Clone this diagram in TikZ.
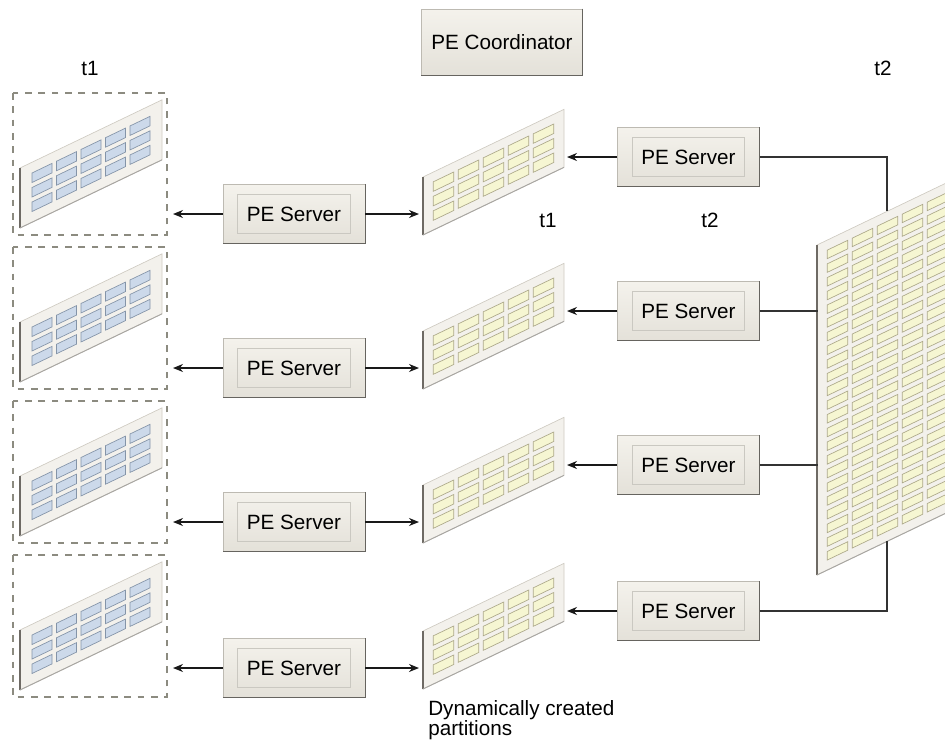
\documentclass[tikz,border=0pt]{standalone}
\usepackage{fontspec}
\setmainfont{Liberation Sans}
\usetikzlibrary{arrows.meta}

\definecolor{sheetbg}{HTML}{F3F1EC}
\definecolor{sheetrim}{HTML}{CFCBC2}
\definecolor{sheetdark}{HTML}{6E6A64}
\definecolor{cellyel}{HTML}{F6F6D2}
\definecolor{cellyelrim}{HTML}{ADA98A}
\definecolor{cellblu}{HTML}{CCD9EA}
\definecolor{cellblurim}{HTML}{8494A8}
\definecolor{boxtop}{HTML}{F4F2EC}
\definecolor{boxbot}{HTML}{E4E1D9}
\definecolor{boxrim}{HTML}{BDBAB2}
\definecolor{boxdark}{HTML}{66645F}
\definecolor{dashcol}{HTML}{8C8B80}

\tikzset{
  every node/.style={font=\fontsize{15.5}{15}\selectfont},
  sheetfill/.style={fill=sheetbg},
  sheetline/.style={draw=sheetrim, line width=0.5pt},
  sheetedge/.style={draw=sheetdark, line width=1.6pt},
  sheetfoot/.style={draw=sheetdark!60, line width=0.7pt},
  yellowcell/.style={fill=cellyel, draw=cellyelrim, line width=0.5pt},
  bluecell/.style={fill=cellblu, draw=cellblurim, line width=0.5pt},
  pebox/.style={draw=boxrim, top color=boxtop, bottom color=boxbot,
    minimum width=106.5pt, minimum height=44.25pt, inner sep=0pt},
  coordbox/.style={pebox, minimum width=120.75pt, minimum height=49.5pt},
  boxshade/.style={draw=boxdark, line width=0.9pt},
  innerframe/.style={draw=boxrim!80, line width=0.5pt},
  dashframe/.style={draw=dashcol, line width=0.8pt, dash pattern=on 5pt off 5pt},
  flow/.style={draw=black!90, line width=1.1pt, -{Stealth[length=7.5pt,width=6pt]}},
  link/.style={draw=black!80, line width=1pt}
}

% sheet: origin, width, height, cols, rows, col pitch, row pitch, cell height, cell style
\newcommand{\datasheet}[9]{%
  \begin{scope}[shift={#1}, yslant=0.48]
    \pgfmathsetmacro{\cw}{#6-4.5}
    \pgfmathsetmacro{\mx}{(#2-(#4-1)*#6-\cw)/2}
    \pgfmathsetmacro{\my}{(#3-(#5-1)*#7-#8)/2}
    \fill[sheetfill] (0,0) rectangle (#2,#3);
    \draw[sheetline] (0,0) rectangle (#2,#3);
    \draw[sheetedge] (0,0) -- (0,#3);
    \draw[sheetfoot] (0,#3) -- (#2,#3);
    \foreach \c in {1,...,#4}
      \foreach \k in {1,...,#5}
        \draw[#9] ({\mx+(\c-1)*#6},{\my+(\k-1)*#7}) rectangle ++(\cw,#8);
  \end{scope}}

\begin{document}
\begin{tikzpicture}[x=0.75pt, y=-0.75pt]
\useasboundingbox (0,0) rectangle (945,740);
\clip (0,0) rectangle (945,740);

% coordinator and labels
\node[coordbox] (coord) at (502,42) {PE Coordinator};
\draw[boxshade] (coord.north east) |- (coord.south west);
\node (lblA) at (90,68) {t1};
\node (lblB) at (883,68) {t2};
\node (lblC) at (548,220) {t1};
\node (lblD) at (710,220) {t2};

% one row per partition
\foreach \r/\o/\p in {1/0/0, 2/154/154, 3/308/308, 4/462/454} {
  \draw[dashframe] (13,{93+\o}) rectangle (167,{235+\o});
  \datasheet{(20,{168+\o})}{142}{60}{5}{3}{24.5}{14.5}{9.5}{bluecell}
  \datasheet{(423,{177+\p})}{141}{58}{5}{3}{25}{14.5}{9.5}{yellowcell}
  \node[pebox] (srvL\r) at (294,{214+\p}) {PE Server};
  \draw[boxshade] (srvL\r.north east) |- (srvL\r.south west);
  \draw[innerframe] ([shift={(15,10)}]srvL\r.north west) rectangle ([shift={(-15,-10)}]srvL\r.south east);
  \node[pebox] (srvR\r) at (688.5,{157+\p}) {PE Server};
  \draw[boxshade] (srvR\r.north east) |- (srvR\r.south west);
  \draw[innerframe] ([shift={(15,10)}]srvR\r.north west) rectangle ([shift={(-15,-10)}]srvR\r.south east);
  \coordinate (tabL\r) at (173,{214+\p});
  \coordinate (partIn\r) at (419,{214+\p});
  \coordinate (partOut\r) at (567,{157+\p});
  \draw[flow] (srvL\r) -- (tabL\r);
  \draw[flow] (srvL\r) -- (partIn\r);
  \draw[flow] (srvR\r) -- (partOut\r);
}

% table t2
\datasheet{(817,245)}{141}{330}{5}{23}{25}{13.7}{8.5}{yellowcell}
\coordinate (bigTop) at (887,{245-0.48*70});
\coordinate (bigBot) at (887,{575-0.48*70});
\coordinate (bigL2) at (818,311);
\coordinate (bigL3) at (818,465);
\draw[link] (srvR1) -| (bigTop);
\draw[link] (srvR2) -- (bigL2);
\draw[link] (srvR3) -- (bigL3);
\draw[link] (srvR4) -| (bigBot);

\node[anchor=north west, align=left, inner sep=0pt] (dyn) at (428,700) {Dynamically created\\partitions};
\end{tikzpicture}
\end{document}
